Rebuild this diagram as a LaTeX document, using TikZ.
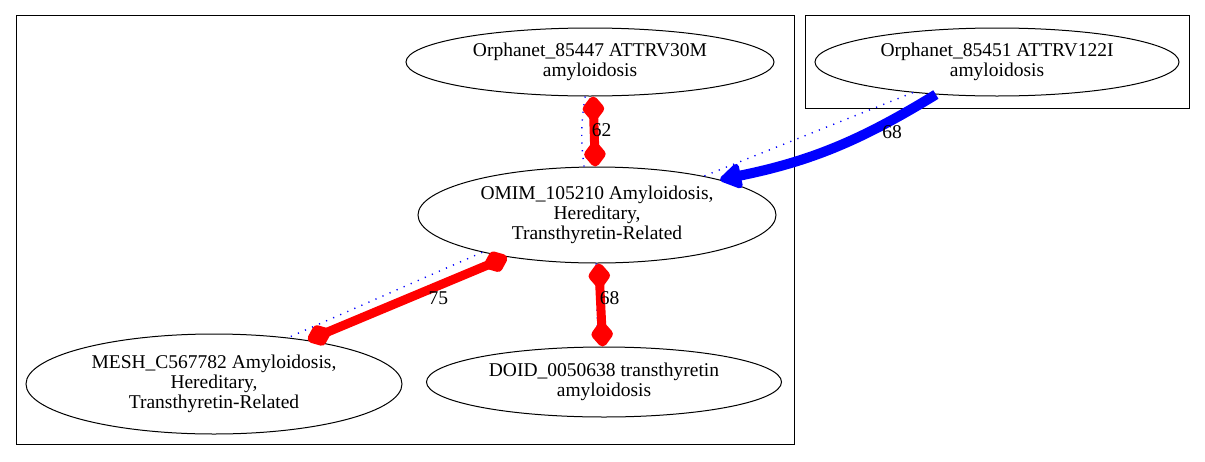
\documentclass[tikz,border=0pt]{standalone}
\usepackage{fontspec}
\setmainfont{Liberation Serif}
\usetikzlibrary{positioning,shapes.geometric,arrows.meta}
\tikzset{on grid,
term/.style ={ellipse, draw, line width=1pt, align=center, inner sep=0pt, font=\fontsize{19.5}{20}\selectfont},
lbl/.style ={inner sep=0pt, text=black, font=\fontsize{19.5}{20}\selectfont},
match/.style ={red, line width=9pt, {Diamond[length=30pt,width=24pt,round]}-{Diamond[length=30pt,width=24pt,round]}},
hint/.style ={blue, line width=10pt, -{Triangle[length=24pt,width=28pt,round]}},
dotline/.style ={blue, line width=1.4pt, dash pattern=on 1.2pt off 6.5pt},
cluster/.style ={draw, line width=1pt}}

\begin{document}
\begin{tikzpicture}[x=1pt, y=-1pt]
\useasboundingbox (0,0) rectangle (1205,461);
\draw[cluster] (16,15) rectangle (794,444);
\draw[cluster] (805,15) rectangle (1189,108);
\node[term, minimum width=358pt, minimum height=96pt] (omim) at (597,215) {OMIM\_105210 Amyloidosis,\\Hereditary,\\Transthyretin-Related};
\node[term, minimum width=368pt, minimum height=68pt] (o447) [above left=153pt and 7pt of omim] {Orphanet\_85447 ATTRV30M\\amyloidosis};
\node[term, minimum width=364pt, minimum height=68pt] (o451) [above right=153pt and 400pt of omim] {Orphanet\_85451 ATTRV122I\\amyloidosis};
\node[term, minimum width=376pt, minimum height=100pt] (mesh) [below left=169pt and 383pt of omim] {MESH\_C567782 Amyloidosis,\\Hereditary,\\Transthyretin-Related};
\node[term, minimum width=355pt, minimum height=70pt] (doid) [below right=167pt and 7pt of omim] {DOID\_0050638 transthyretin\\amyloidosis};
\path (o447.-98) edge[dotline, bend right=8] (omim.105)
      (omim.-91) edge[dotline] (doid.100)
      (omim.-162) edge[dotline] (mesh.32)
      (o451.-160) edge[dotline] (omim.20);
\path (o447.-85) edge[match] node[lbl, midway, xshift=7.5pt, yshift=1pt] {62} (omim.92)
      (omim.-88) edge[match] node[lbl, midway, xshift=9pt, yshift=7pt] {68} (doid.92)
      (omim.-155) edge[match] node[lbl, midway, xshift=31pt] {75} (mesh.25)
      (o451.-152) edge[hint, bend left=10] node[lbl, pos=0.25, xshift=10pt, yshift=-7pt] {68} (omim.16);
\end{tikzpicture}
\end{document}
